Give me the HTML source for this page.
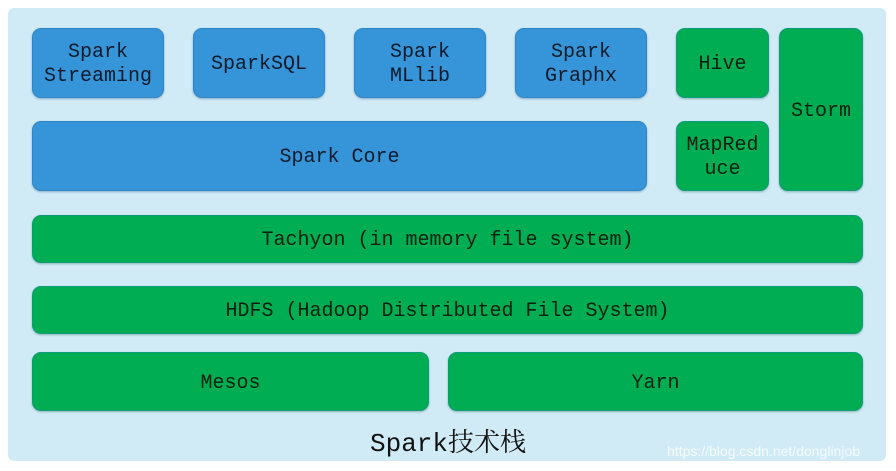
<!DOCTYPE html>
<html><head><meta charset="utf-8"><style>
html,body{margin:0;padding:0;background:#fff;width:896px;height:471px;overflow:hidden}
.panel{position:absolute;left:8px;top:8px;width:878px;height:453px;background:#d0ebf6;border-radius:6px}
.b{position:absolute;display:flex;align-items:center;justify-content:center;text-align:center;border-radius:9px;font-family:"Liberation Mono","Noto Sans CJK SC",monospace;font-size:20px;line-height:24px;color:#0a1a2a;box-sizing:border-box;padding-top:4px}
.bl{background:#3695d8;border:1px solid #2f86c4;box-shadow:0 1px 2px rgba(0,60,120,.35)}
.gr{background:#00ad52;border:1px solid #0f9a7a;box-shadow:0 1px 2px rgba(0,80,60,.35);color:#062010}
.t{position:absolute;left:0;width:896px;top:426px;text-align:center;font-family:"Liberation Mono","Noto Serif CJK SC",monospace;font-size:26px;line-height:30px;color:#111}
.t span{font-family:"Noto Serif CJK SC",serif}
.w{position:absolute;left:667px;top:443px;font-family:"Liberation Sans",sans-serif;font-size:14px;color:#fff;opacity:.8}
</style></head><body>
<div class="panel"></div>
<div class="b bl" style="left:32px;top:28px;width:132px;height:70px">Spark<br>Streaming</div>
<div class="b bl" style="left:193px;top:28px;width:132px;height:70px">SparkSQL</div>
<div class="b bl" style="left:354px;top:28px;width:132px;height:70px">Spark<br>MLlib</div>
<div class="b bl" style="left:515px;top:28px;width:132px;height:70px">Spark<br>Graphx</div>
<div class="b gr" style="left:676px;top:28px;width:93px;height:70px">Hive</div>
<div class="b gr" style="left:779px;top:28px;width:84px;height:163px">Storm</div>
<div class="b bl" style="left:32px;top:121px;width:615px;height:70px">Spark Core</div>
<div class="b gr" style="left:676px;top:121px;width:93px;height:70px">MapRed<br>uce</div>
<div class="b gr" style="left:32px;top:215px;width:831px;height:48px">Tachyon (in memory file system)</div>
<div class="b gr" style="left:32px;top:286px;width:831px;height:48px">HDFS (Hadoop Distributed File System)</div>
<div class="b gr" style="left:32px;top:352px;width:397px;height:59px">Mesos</div>
<div class="b gr" style="left:448px;top:352px;width:415px;height:59px">Yarn</div>
<div class="t">Spark<span>技术栈</span></div>
<div class="w">https://blog.csdn.net/donglinjob</div>
</body></html>
